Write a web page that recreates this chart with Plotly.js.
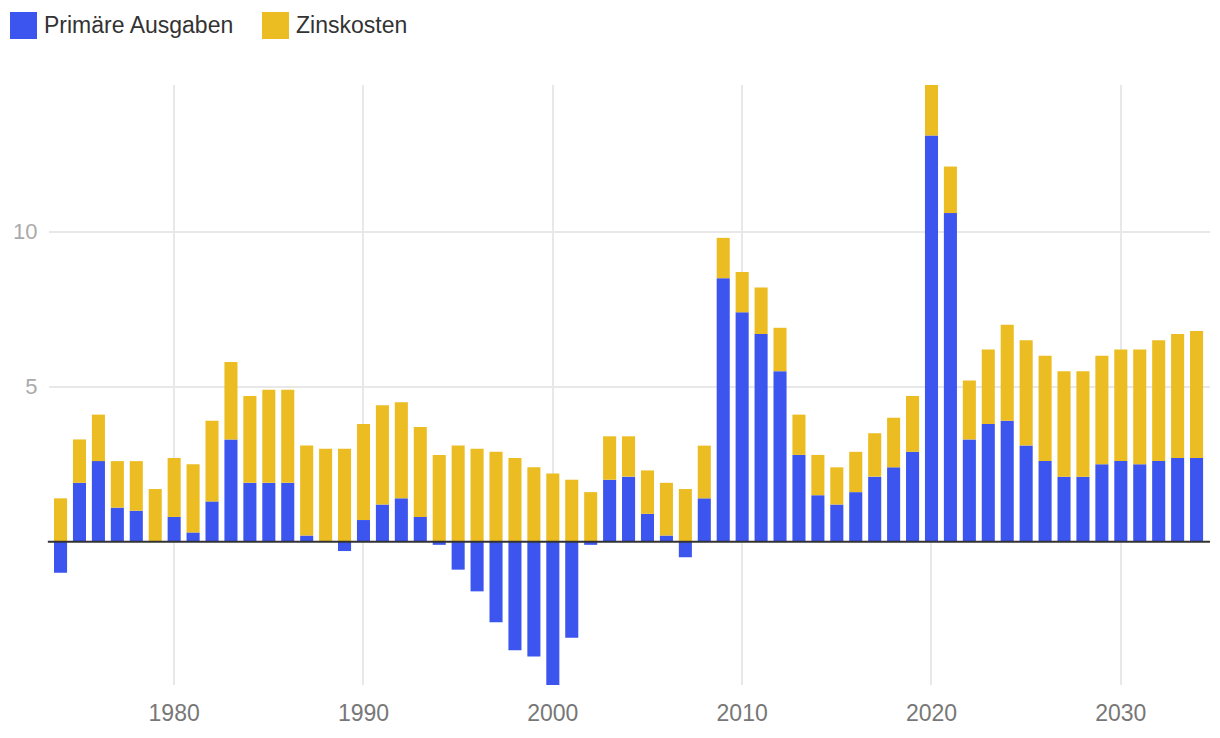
<!DOCTYPE html>
<html>
<head>
<meta charset="utf-8">
<script src="https://cdn.plot.ly/plotly-3.0.1.min.js"></script>
<style>html,body{margin:0;padding:0;background:#fff;}#chart{width:1220px;height:738px;}</style>
</head>
<body>
<div id="chart"></div>
<script>
const years = [1974,1975,1976,1977,1978,1979,1980,1981,1982,1983,1984,1985,1986,1987,1988,1989,
  1990,1991,1992,1993,1994,1995,1996,1997,1998,1999,2000,2001,2002,2003,2004,2005,2006,2007,2008,2009,
  2010,2011,2012,2013,2014,2015,2016,2017,2018,2019,2020,2021,2022,2023,2024,2025,2026,2027,2028,2029,
  2030,2031,2032,2033,2034];
const primaer = [-1.0,1.9,2.6,1.1,1.0,0,0.8,0.3,1.3,3.3,1.9,1.9,1.9,0.2,0,-0.3,
  0.7,1.2,1.4,0.8,-0.1,-0.9,-1.6,-2.6,-3.5,-3.7,-4.8,-3.1,-0.1,2.0,2.1,0.9,0.2,-0.5,1.4,8.5,
  7.4,6.7,5.5,2.8,1.5,1.2,1.6,2.1,2.4,2.9,13.1,10.6,3.3,3.8,3.9,3.1,2.6,2.1,2.1,2.5,
  2.6,2.5,2.6,2.7,2.7];
const zinsen = [1.4,1.4,1.5,1.5,1.6,1.7,1.9,2.2,2.6,2.5,2.8,3.0,3.0,2.9,3.0,3.0,
  3.1,3.2,3.1,2.9,2.8,3.1,3.0,2.9,2.7,2.4,2.2,2.0,1.6,1.4,1.3,1.4,1.7,1.7,1.7,1.3,
  1.3,1.5,1.4,1.3,1.3,1.2,1.3,1.4,1.6,1.8,1.7,1.5,1.9,2.4,3.1,3.4,3.4,3.4,3.4,3.5,
  3.6,3.7,3.9,4.0,4.1];
const seriesNames = ["Primäre Ausgaben", "Zinskosten"];
const xTickVals = [1980,1990,2000,2010,2020,2030];
const yTickVals = [5,10];

const colors = ["#3B55EE", "#EBBD22"];
const font = "'Liberation Sans', Arial, Helvetica, sans-serif";

const traces = [
  {type:'bar', x:years, y:primaer, name:seriesNames[0], marker:{color:colors[0]}, hoverinfo:'x+y'},
  {type:'bar', x:years, y:zinsen, name:seriesNames[1], marker:{color:colors[1]}, hoverinfo:'x+y'}
];

const legendShapes = [];
const legendAnn = [];
const legendX = [10, 262];
seriesNames.forEach((n,i)=>{
  legendShapes.push({type:'rect', xref:'paper', yref:'paper', layer:'above',
    x0:(legendX[i]-49)/1161, x1:(legendX[i]+27-49)/1161,
    y0:(738-53-12)/600, y1:(738-53-39)/600,
    fillcolor:colors[i], line:{width:0}});
  legendAnn.push({xref:'paper', yref:'paper', x:(legendX[i]+32-49)/1161, y:(738-53-25)/600,
    xanchor:'left', yanchor:'middle', showarrow:false, text:n,
    font:{family:font, size:23, color:'#333'}});
});

const layout = {
  width:1220, height:738,
  margin:{l:49, r:10, t:85, b:53},
  paper_bgcolor:'#fff', plot_bgcolor:'#fff',
  barmode:'relative', bargap:0.31,
  showlegend:false,
  font:{family:font, size:22, color:'#777'},
  xaxis:{range:[1973.39, 2034.71], tickvals:xTickVals, ticktext:xTickVals.map(String),
    showgrid:true, gridcolor:'#e8e8e8', gridwidth:2, zeroline:false, showline:false,
    ticks:'outside', ticklen:7, tickcolor:'rgba(0,0,0,0)',
    tickfont:{family:font, size:23, color:'#777'}},
  yaxis:{range:[-4.62, 14.73], tickvals:yTickVals, ticktext:yTickVals.map(String),
    showgrid:true, gridcolor:'#e8e8e8', gridwidth:2, zeroline:false, showline:false,
    ticks:'outside', ticklen:6, tickcolor:'rgba(0,0,0,0)',
    tickfont:{family:font, size:22, color:'#aaa'}},
  shapes:[{type:'line', xref:'paper', yref:'y', x0:-0.001, x1:1, y0:0, y1:0, layer:'above',
    line:{color:'#333', width:2}}].concat(legendShapes),
  annotations:legendAnn
};

Plotly.newPlot('chart', traces, layout, {displayModeBar:false, staticPlot:true});
</script>
</body>
</html>
